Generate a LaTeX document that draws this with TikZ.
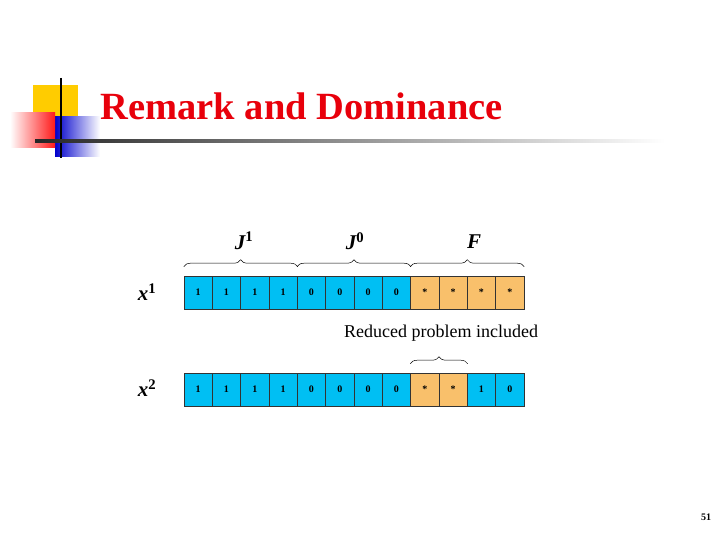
\documentclass[tikz,border=0pt]{standalone}
\usepackage{fontspec}
\setmainfont{Liberation Serif}
\usetikzlibrary{decorations.pathreplacing}
\definecolor{cy}{HTML}{00BFF3}
\definecolor{orq}{HTML}{F9C06B}
\definecolor{ttl}{HTML}{E8000B}
\definecolor{yl}{HTML}{FFCC00}
\begin{document}
\begin{tikzpicture}[x=1pt,y=-1pt,
  cell/.style={draw=black!80,line width=0.6pt,minimum width=28.33pt,minimum height=33pt,inner sep=0,font=\bfseries\fontsize{10}{10}\selectfont},
  brc/.style={decorate,decoration={brace,amplitude=7pt},line width=0.5pt},
  lab/.style={font=\bfseries\itshape\fontsize{21}{21}\selectfont}]
\useasboundingbox (0,0) rectangle (720,540);
% logo
\fill[yl] (33,85) rectangle (78,120);
\shade[left color=blue!80!black,right color=white] (55,117) rectangle (100,157);
\shade[left color=white,right color=red!90] (10,113) rectangle (55,148);
\draw[line width=2pt] (61,78) -- (61,158);
\shade[left color=black!85,right color=white] (35,140) rectangle (665,142.5);
\node[font=\bfseries\fontsize{38.5}{38.5}\selectfont,text=ttl,anchor=west] (title) at (97,106) {Remark and Dominance};
% row 1
\foreach \i/\t in {1/1,2/1,3/1,4/1,5/0,6/0,7/0,8/0}
  \node[cell,fill=cy] (a\i) at ({184+28.33*(\i-0.5)},292.5) {\t};
\foreach \i in {9,...,12}
  \node[cell,fill=orq] (a\i) at ({184+28.33*(\i-0.5)},292.5) {*};
% row 2
\foreach \i/\t in {1/1,2/1,3/1,4/1,5/0,6/0,7/0,8/0,11/1,12/0}
  \node[cell,fill=cy] (b\i) at ({184+28.33*(\i-0.5)},389.5) {\t};
\foreach \i in {9,10}
  \node[cell,fill=orq] (b\i) at ({184+28.33*(\i-0.5)},389.5) {*};
\node[lab] (x1) at (147,292) {x$^{\mathbf 1}$};
\node[lab] (x2) at (147,388) {x$^{\mathbf 2}$};
% braces
\draw[brc] ([yshift=9pt]a1.north west) -- ([yshift=9pt]a4.north east);
\draw[brc] ([yshift=9pt]a5.north west) -- ([yshift=9pt]a8.north east);
\draw[brc] ([yshift=9pt]a9.north west) -- ([yshift=9pt]a12.north east);
\draw[brc] ([yshift=9pt]b9.north west) -- ([yshift=9pt]b10.north east);
\node[lab] (j1) at (244,241) {J$^{\mathbf 1}$};
\node[lab] (j0) at (355,241) {J$^{\mathbf 0}$};
\node[lab] (f) at (474,242) {F};
\node[font=\fontsize{18}{18}\selectfont] (red) at (441,333) {Reduced problem included};
\node[font=\bfseries\fontsize{10}{10}\selectfont] (pg) at (706,517) {51};
\end{tikzpicture}
\end{document}
